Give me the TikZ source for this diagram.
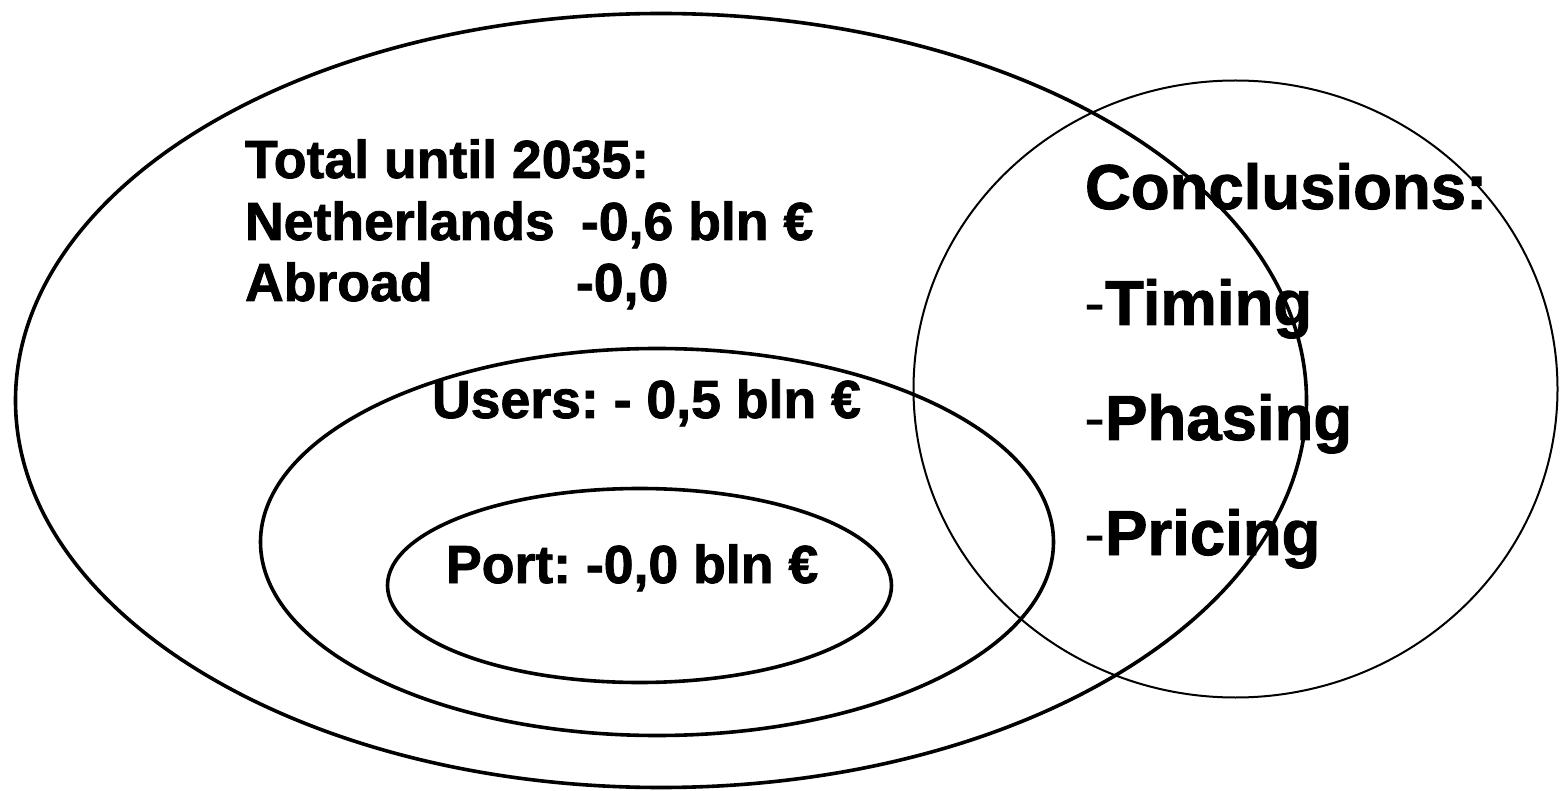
\documentclass[tikz,border=0pt]{standalone}
\usepackage{fontspec}
\setmainfont{Liberation Sans}[BoldFeatures={FakeBold=1.5}]
\frenchspacing
\newlength{\du}
\setlength{\du}{1pt}
\tikzset{
  txt/.style={anchor=base west,inner sep=0pt,outer sep=0pt,font=\fontsize{53.6}{61.6}\selectfont\bfseries},
  bigtxt/.style={anchor=base west,inner sep=0pt,outer sep=0pt,font=\fontsize{63.5}{75}\selectfont\bfseries}
}

\begin{document}
\begin{tikzpicture}
\pgftransformxscale{1.000000}
\pgftransformyscale{-1.000000}
\useasboundingbox (0\du,0\du) rectangle (1564\du,791\du);
\definecolor{dialinecolor}{rgb}{0.000000, 0.000000, 0.000000}
\pgfsetstrokecolor{dialinecolor}
% total
\pgfsetlinewidth{3.600000\du}
\draw (661.000000\du,400.500000\du) ellipse [x radius=645.500000\du, y radius=387.000000\du];
% users
\draw (657.000000\du,542.000000\du) ellipse [x radius=396.500000\du, y radius=193.500000\du];
% port
\draw (639.500000\du,585.500000\du) ellipse [x radius=252.000000\du, y radius=97.000000\du];
% conclusions
\pgfsetlinewidth{2.000000\du}
\draw (1235.500000\du,389.000000\du) ellipse [x radius=322.000000\du, y radius=308.500000\du];
% texts left
\node[txt] (total) at (245.000000\du,178.000000\du){Total until 2035:};
\node[txt] (nl) at (245.000000\du,240.000000\du){\makebox[336\du][l]{Netherlands}-0,6 bln €};
\node[txt] (abroad) at (245.000000\du,301.000000\du){\makebox[331\du][l]{Abroad}-0,0};
\node[txt] (users) at (432.000000\du,418.000000\du){Users: - 0,5 bln €};
\node[txt] (port) at (446.000000\du,583.000000\du){Port: -0,0 bln €};
% texts right
\node[bigtxt] (concl) at (1085.000000\du,209.000000\du){Conclusions:};
\node[bigtxt] (timing) at (1084.000000\du,325.000000\du){{\mdseries -}Timing};
\node[bigtxt] (phasing) at (1084.000000\du,440.000000\du){{\mdseries -}Phasing};
\node[bigtxt] (pricing) at (1084.000000\du,555.000000\du){{\mdseries -}Pricing};
\end{tikzpicture}
\end{document}
